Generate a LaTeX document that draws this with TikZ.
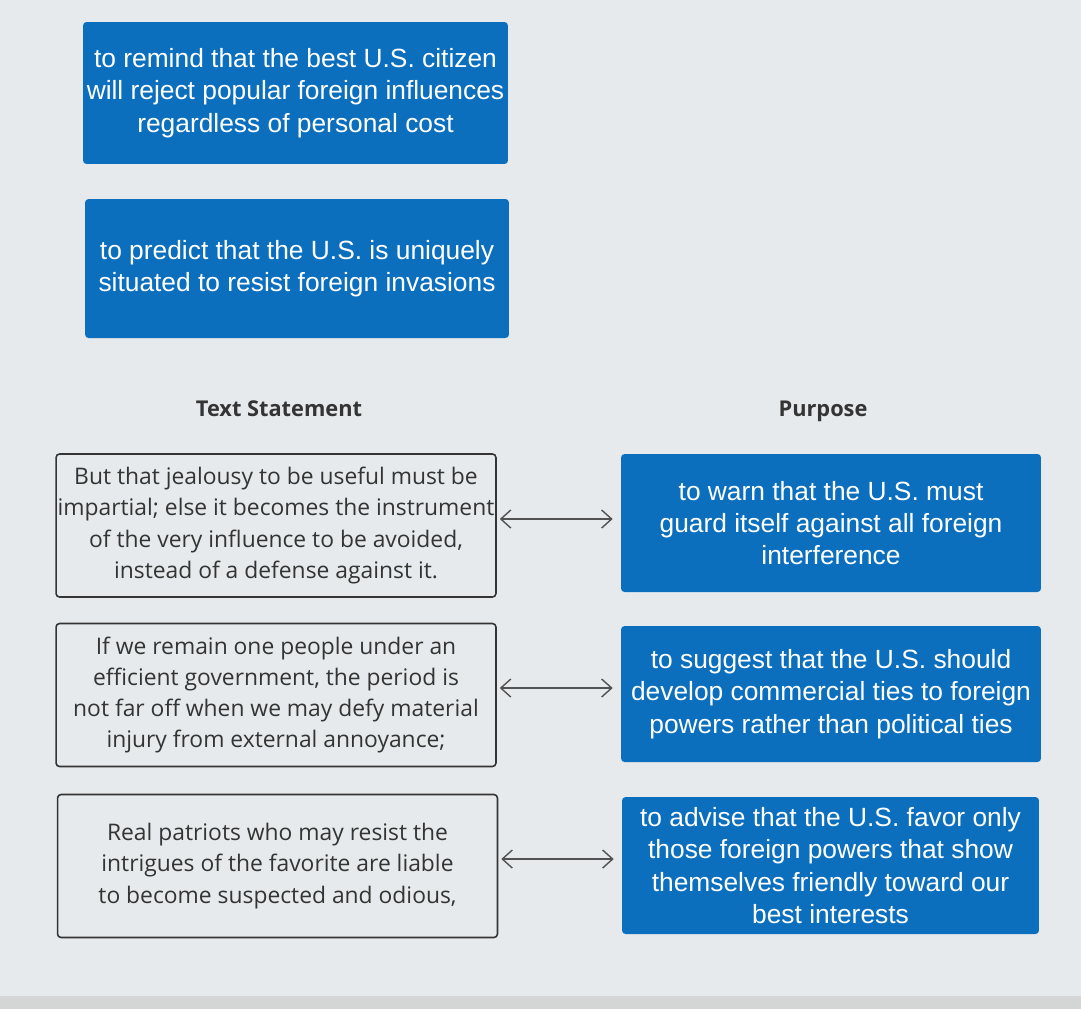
\documentclass[tikz,border=0pt]{standalone}
\usepackage{fontspec}
\setmainfont{Open Sans}
\newfontfamily\arialfont{Liberation Sans}
\usepackage{tikz}
\usetikzlibrary{positioning}
\usetikzlibrary{arrows.meta}
\usetikzlibrary{calc}

\definecolor{screenbg}{RGB}{230,234,236}
\definecolor{screenedge}{RGB}{212,214,214}
\definecolor{tileblue}{RGB}{12,111,190}
\definecolor{inkgray}{RGB}{52,52,52}

\begin{document}
\begin{tikzpicture}[x=0.02cm, y=-0.02cm,
	purpose/.style = {fill=tileblue, rounded corners=0.07cm, text=white, align=center,
		font=\arialfont\fontsize{15}{18.4}\selectfont, inner sep=0pt},
	statement/.style = {draw=inkgray, line width=0.9pt, rounded corners=0.07cm, text=inkgray,
		align=center, font=\fontsize{13}{17.8}\selectfont, inner sep=0pt,
		minimum width=8.8cm, minimum height=2.86cm},
	heading/.style = {text=inkgray, anchor=base, font=\bfseries\fontsize{12.4}{15}\selectfont},
	link/.style = {<->, >={Straight Barb[length=0.2cm, width=0.36cm]}, draw=inkgray!85, line width=0.8pt,
		shorten <=0.06cm, shorten >=0.16cm}]

\fill[screenbg] (0,0) rectangle (1081,1009);
\fill[screenedge] (0,996) rectangle (1081,1009);
\useasboundingbox (0,0) rectangle (1081,1009);

% choices still to be placed
\node[purpose, minimum width=8.5cm, minimum height=2.84cm] (top0) at (295.5,93)
	{to remind that the best U.S. citizen\\ will reject popular foreign influences\\ regardless of personal cost};
\node[purpose, minimum width=8.48cm, minimum height=2.78cm] (top1) at (297,268.5)
	{to predict that the U.S. is uniquely\\ situated to resist foreign invasions};

\node[heading] (head0) at (279,416) {Text Statement};
\node[heading] (head1) at (823,416) {Purpose};

\node[statement] (stmt1) at (276,525.5)
	{But that jealousy to be useful must be\\ impartial; else it becomes the instrument\\ of the very influence to be avoided,\\ instead of a defense against it.};
\node[statement] (stmt2) at (276,695)
	{If we remain one people under an\\ efficient government, the period is\\ not far off when we may defy material\\ injury from external annoyance;};
\node[statement] (stmt3) at (277.5,866)
	{Real patriots who may resist the\\ intrigues of the favorite are liable\\ to become suspected and odious,};

\node[purpose, minimum width=8.4cm, minimum height=2.76cm] (purp1) at ($(stmt1)+(555,-2.5)$)
	{to warn that the U.S. must\\ guard itself against all foreign\\ interference};
\node[purpose, minimum width=8.4cm, minimum height=2.72cm] (purp2) at ($(stmt2)+(555,-1)$)
	{to suggest that the U.S. should\\ develop commercial ties to foreign\\ powers rather than political ties};
\node[purpose, minimum width=8.34cm, minimum height=2.74cm] (purp3) at ($(stmt3)+(553,-0.5)$)
	{to advise that the U.S. favor only\\ those foreign powers that show\\ themselves friendly toward our\\ best interests};

\draw[link] ([yshift=0.13cm]stmt1.east) -- ([yshift=0.13cm]stmt1.east -| purp1.west);
\draw[link] ([yshift=0.14cm]stmt2.east) -- ([yshift=0.14cm]stmt2.east -| purp2.west);
\draw[link] ([yshift=0.14cm]stmt3.east) -- ([yshift=0.14cm]stmt3.east -| purp3.west);
\end{tikzpicture}
\end{document}
